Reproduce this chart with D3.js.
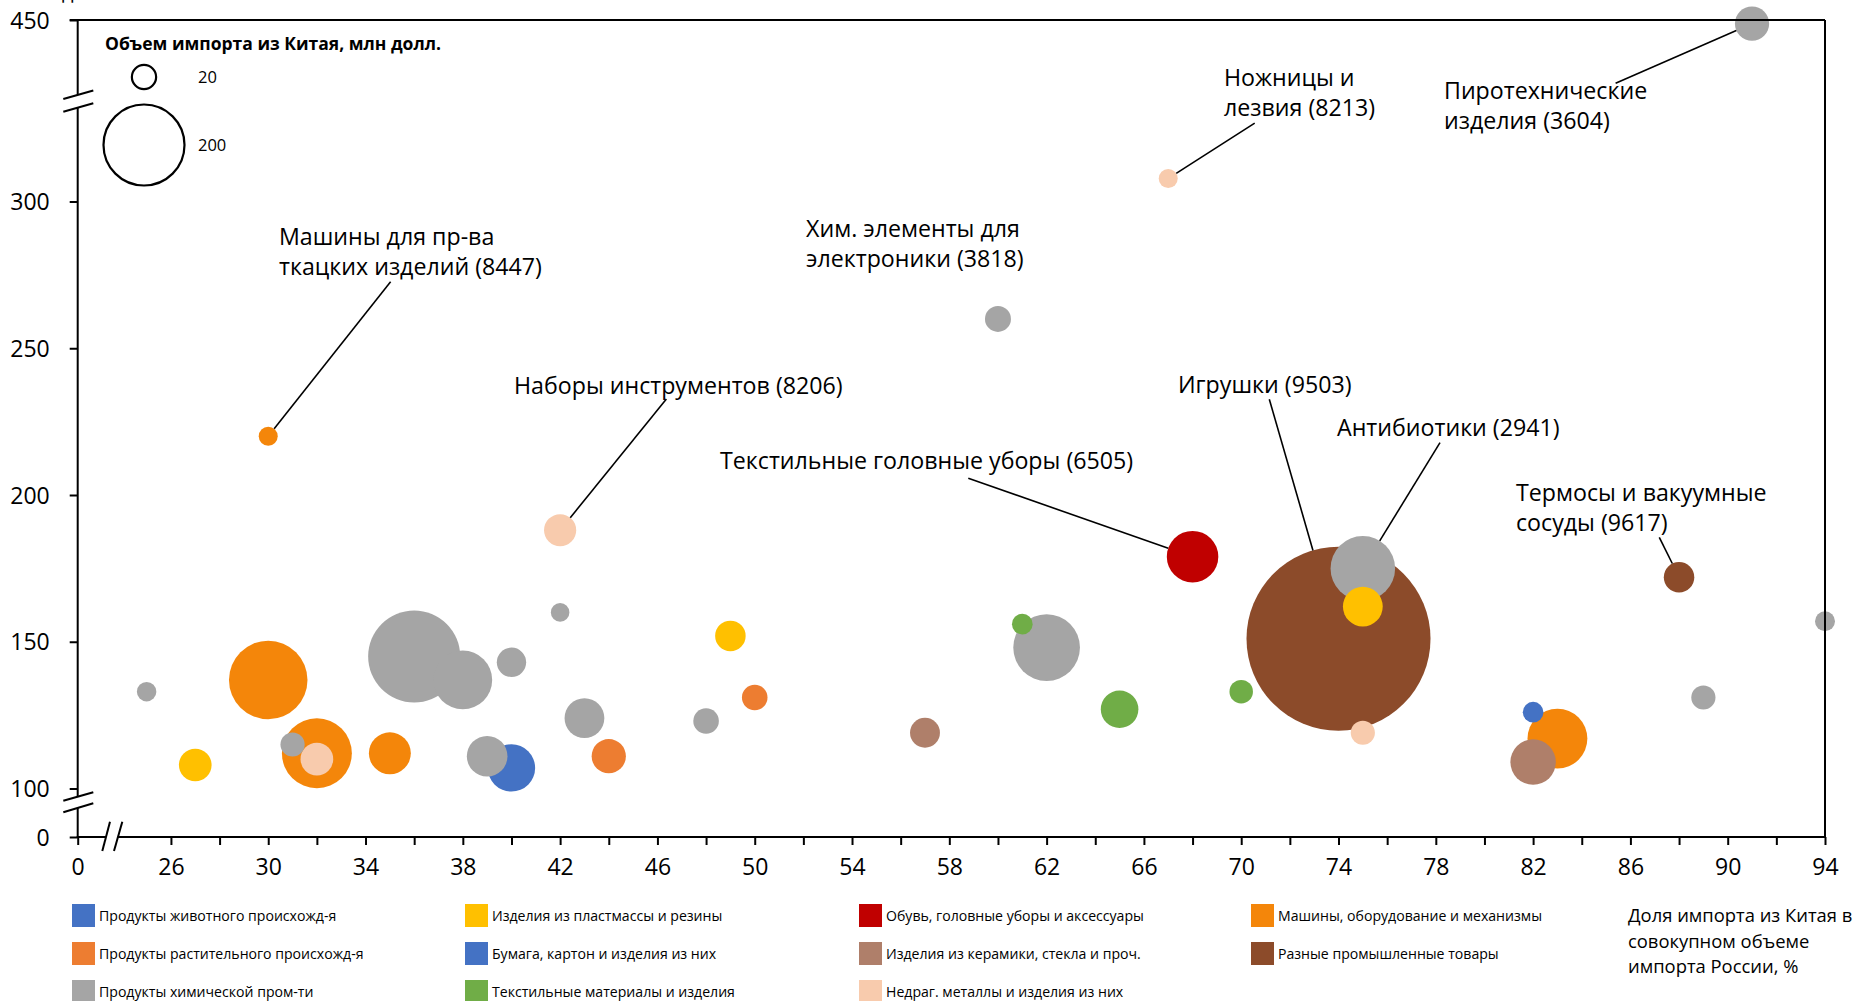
<!DOCTYPE html>
<html>
<head>
<meta charset="utf-8">
<script src="https://cdn.jsdelivr.net/npm/d3@7/dist/d3.min.js"></script>
<style>
  html, body { margin: 0; padding: 0; background: #ffffff; }
  svg { display: block; font-family: "Open Sans", "Noto Sans", sans-serif; }
</style>
</head>
<body>
<svg id="chart" width="1856" height="1001"></svg>
<script>
(function(){
"use strict";

// categories (legend order, column by column) and their colours
var categories = [
  "Продукты животного происхожд-я",
  "Продукты растительного происхожд-я",
  "Продукты химической пром-ти",
  "Изделия из пластмассы и резины",
  "Бумага, картон  и изделия из них",
  "Текстильные материалы и изделия",
  "Обувь, головные уборы и аксессуары",
  "Изделия из керамики, стекла и проч.",
  "Недраг. металлы и изделия из них",
  "Машины, оборудование и механизмы",
  "Разные промышленные товары"
];
var categoryColors = [
  "#4472C4", "#ED7D31", "#A5A5A5", "#FFC000", "#4472C4", "#70AD47",
  "#C00000", "#AF7F6A", "#F8CBAD", "#F4860A", "#8C4B2A"
];

// bubbles: share of China in Russian imports (%), y value, import volume (mln $), category
var shareX =    [25, 27, 30, 30, 31, 32, 32, 35, 36, 38, 39, 40, 40, 42, 42, 43, 44, 48, 49, 50, 57, 60, 61, 62, 65, 67, 68, 70, 74, 75, 75, 75, 82, 82, 83, 88, 89, 91, 94];
var valueY =    [133, 108, 137, 220, 115, 112, 110, 112, 145, 137, 111, 143, 107, 188, 160, 124, 111, 123, 152, 131, 119, 260, 156, 148, 127, 319, 179, 133, 151, 175, 162, 119, 126, 109, 117, 172, 131, 447, 157];
var volume =    [11, 31, 179, 10.5, 17, 142, 31, 51, 246, 100, 48, 25, 65, 30, 10, 46, 34, 19, 27, 19, 26, 19.6, 12.4, 129, 41, 10.5, 77, 16, 983, 121, 46, 17, 12.4, 60, 104, 27, 17, 34, 11.6];
var categoryOf = [2, 3, 9, 9, 2, 9, 8, 9, 2, 2, 2, 2, 4, 8, 2, 2, 1, 2, 3, 1, 7, 2, 5, 2, 5, 8, 6, 5, 10, 2, 3, 8, 0, 7, 9, 10, 2, 2, 2];

// named goods (point index, text lines)
var calloutPoint = [3, 13, 21, 25, 37, 28, 29, 26, 35];
var calloutText = [
  ["Машины для пр-ва", "ткацких изделий (8447)"],
  ["Наборы инструментов (8206)"],
  ["Хим. элементы для", "электроники (3818)"],
  ["Ножницы и", "лезвия (8213)"],
  ["Пиротехнические", "изделия (3604)"],
  ["Игрушки (9503)"],
  ["Антибиотики (2941)"],
  ["Текстильные головные уборы (6505)"],
  ["Термосы и вакуумные", "сосуды (9617)"]
];

// axes
var yTicks = [0, 100, 150, 200, 250, 300, 450];
var xTicks = [0, 26, 28, 30, 32, 34, 36, 38, 40, 42, 44, 46, 48, 50, 52, 54, 56, 58, 60, 62, 64, 66, 68, 70, 72, 74, 76, 78, 80, 82, 84, 86, 88, 90, 92, 94];
var xTickLabels = [0, 26, 30, 34, 38, 42, 46, 50, 54, 58, 62, 66, 70, 74, 78, 82, 86, 90, 94];
var sizeLegend = [20, 200];
var sizeTitle = "Объем импорта из Китая, млн долл.";
var xTitle = ["Доля импорта из Китая в", "совокупном объеме", "импорта России, %"];
var yTitle = "долл./кг";

// layout of label blocks: [text x, first baseline, leader start x, leader start y]
var calloutLayout = [
  [279, 245, 390.6, 281.7],
  [514, 394, 666.4, 399],
  [806, 237, null, null],
  [1224, 86, 1254.7, 123.1],
  [1444, 99, 1615.6, 83.3],
  [1178, 393, 1269.3, 399.3],
  [1337, 436, 1440, 442.7],
  [720, 469, 968.3, 478.3],
  [1516, 501, 1659.3, 537.3]
];

var svg = d3.select("#chart");

// broken scales: 0 sits just left of the x break, 300..450 is compressed
var x = d3.scaleLinear().domain([0, 22.2, 94]).range([77.7, 78.5, 1825]);
var y = d3.scaleLinear().domain([0, 100, 300, 450]).range([837, 788.5, 201.5, 20]);
var r = d3.scaleSqrt().domain([0, 200]).range([0, 41.5]);

var plotLeft = 77.7, plotRight = 1825, plotTop = 20, plotBottom = 837;

svg.append("rect")
  .attr("width", 1856)
  .attr("height", 1001)
  .attr("fill", "#ffffff");

// clipped axis title at the very top
svg.append("text")
  .attr("x", 62)
  .attr("y", -1)
  .attr("font-size", 20)
  .attr("fill", "#000")
  .text(yTitle);

// bubbles, large first
var points = d3.range(shareX.length).map(function(i){
  return {
    i: i,
    x: shareX[i],
    y: valueY[i],
    v: volume[i],
    c: categoryColors[categoryOf[i]]
  };
});
points.sort(function(a, b){ return b.v - a.v; });

svg.append("g")
  .attr("class", "bubbles")
  .selectAll("circle")
  .data(points)
  .enter()
  .append("circle")
  .attr("cx", function(d){ return x(d.x); })
  .attr("cy", function(d){ return y(d.y); })
  .attr("r", function(d){ return r(d.v); })
  .attr("fill", function(d){ return d.c; });

// frame: top and right
var frame = svg.append("g")
  .attr("stroke", "#000")
  .attr("stroke-width", 2)
  .attr("fill", "none");

frame.append("line")
  .attr("x1", plotLeft - 8).attr("y1", plotTop)
  .attr("x2", plotRight).attr("y2", plotTop);
frame.append("line")
  .attr("x1", plotRight).attr("y1", plotTop)
  .attr("x2", plotRight).attr("y2", plotBottom);

// y axis with two breaks
var yAxis = d3.axisLeft(y)
  .tickValues(yTicks)
  .tickSize(8)
  .tickPadding(20)
  .tickFormat(d3.format("d"));

var yg = svg.append("g")
  .attr("transform", "translate(" + plotLeft + ",0)")
  .call(yAxis);
yg.select(".domain").remove();
yg.selectAll(".tick line").attr("stroke", "#000").attr("stroke-width", 2);
yg.selectAll(".tick text")
  .attr("font-size", 23)
  .attr("font-family", "Open Sans")
  .attr("fill", "#000")
  .attr("dy", "0.35em");

frame.append("line").attr("x1", plotLeft).attr("y1", plotTop).attr("x2", plotLeft).attr("y2", 94.5);
frame.append("line").attr("x1", plotLeft).attr("y1", 107.5).attr("x2", plotLeft).attr("y2", 796.5);
frame.append("line").attr("x1", plotLeft).attr("y1", 808).attr("x2", plotLeft).attr("y2", plotBottom + 1);

// x axis with break
var xAxis = d3.axisBottom(x)
  .tickValues(xTicks)
  .tickSize(8)
  .tickPadding(14)
  .tickFormat(function(d){ return xTickLabels.indexOf(d) >= 0 ? d : ""; });

var xg = svg.append("g")
  .attr("transform", "translate(0," + plotBottom + ")")
  .call(xAxis);
xg.select(".domain").remove();
xg.selectAll(".tick line").attr("stroke", "#000").attr("stroke-width", 2);
xg.selectAll(".tick text")
  .attr("font-size", 23)
  .attr("font-family", "Open Sans")
  .attr("fill", "#000");

frame.append("line").attr("x1", plotLeft - 1).attr("y1", plotBottom).attr("x2", 106).attr("y2", plotBottom);
frame.append("line").attr("x1", 118).attr("y1", plotBottom).attr("x2", plotRight + 1).attr("y2", plotBottom);

// break marks
var slashes = [
  [63.3, 99, 93.3, 90.5], [63.3, 111.7, 93.3, 103.3],
  [63.3, 800.7, 93.3, 792.3], [63.3, 812.3, 93.3, 803.3],
  [102.3, 851, 110, 821.7], [114, 851, 122.3, 821.7]
];
frame.selectAll(".slash")
  .data(slashes)
  .enter()
  .append("line")
  .attr("class", "slash")
  .attr("x1", function(d){ return d[0]; })
  .attr("y1", function(d){ return d[1]; })
  .attr("x2", function(d){ return d[2]; })
  .attr("y2", function(d){ return d[3]; });

// callouts
var callouts = svg.append("g").attr("class", "callouts");

calloutPoint.forEach(function(pi, k){
  var lay = calloutLayout[k];
  var t = callouts.append("text")
    .attr("x", lay[0])
    .attr("y", lay[1])
    .attr("font-size", 23.2)
    .attr("fill", "#000");
  calloutText[k].forEach(function(line, li){
    t.append("tspan")
      .attr("x", lay[0])
      .attr("y", lay[1] + li * 29.5)
      .text(line);
  });
  if(lay[2] !== null){
    var cx = x(shareX[pi]), cy = y(valueY[pi]), rr = r(volume[pi]);
    var dx = cx - lay[2], dy = cy - lay[3];
    var len = Math.sqrt(dx * dx + dy * dy);
    callouts.append("line")
      .attr("x1", lay[2])
      .attr("y1", lay[3])
      .attr("x2", cx - rr * dx / len)
      .attr("y2", cy - rr * dy / len)
      .attr("stroke", "#000")
      .attr("stroke-width", 1.6);
  }
});

// size legend
var sizeG = svg.append("g").attr("class", "size-legend");
sizeG.append("text")
  .attr("x", 105)
  .attr("y", 50)
  .attr("font-size", 17.5)
  .attr("font-weight", "bold")
  .attr("fill", "#000")
  .text(sizeTitle);

var sizeY = [77, 145];
sizeG.selectAll("circle")
  .data(sizeLegend)
  .enter()
  .append("circle")
  .attr("cx", 144)
  .attr("cy", function(d, i){ return sizeY[i]; })
  .attr("r", function(d){ return r(d) - 1; })
  .attr("fill", "none")
  .attr("stroke", "#000")
  .attr("stroke-width", 2.2);

sizeG.selectAll("text.val")
  .data(sizeLegend)
  .enter()
  .append("text")
  .attr("class", "val")
  .attr("x", 198)
  .attr("y", function(d, i){ return sizeY[i] + 6; })
  .attr("font-size", 16.5)
  .attr("fill", "#000")
  .text(function(d){ return d; });

// category legend
var colX = [72, 465, 859, 1251];
var rowY = [904, 942, 980];
var legendItems = svg.append("g")
  .attr("class", "legend")
  .selectAll("g")
  .data(categories)
  .enter()
  .append("g")
  .attr("transform", function(d, i){
    return "translate(" + colX[Math.floor(i / 3)] + "," + rowY[i % 3] + ")";
  });

legendItems.append("rect")
  .attr("width", 23)
  .attr("height", 23)
  .attr("fill", function(d, i){ return categoryColors[i]; });

legendItems.append("text")
  .attr("x", 27)
  .attr("y", 17)
  .attr("font-size", 14.1)
  .attr("fill", "#000")
  .text(function(d){ return d; });

// x axis title
var xt = svg.append("text")
  .attr("font-size", 18.4)
  .attr("fill", "#000");
xTitle.forEach(function(line, li){
  xt.append("tspan")
    .attr("x", 1628)
    .attr("y", 922 + li * 25.5)
    .text(line);
});
})();
</script>
</body>
</html>
